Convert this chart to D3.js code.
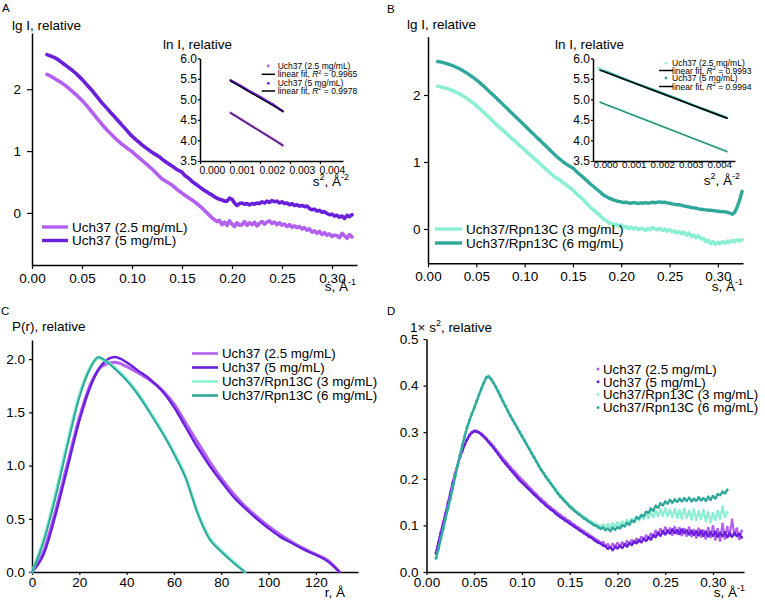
<!DOCTYPE html>
<html>
<head>
<meta charset="utf-8">
<script src="https://cdn.jsdelivr.net/npm/d3@7"></script>
<style>
  body { margin: 0; background: #fff; }
</style>
</head>
<body>
<svg id="fig" width="765" height="607"></svg>
<script>
/*
 * Four SAXS panels: lg I (A, B) with Guinier insets, P(r) (C) and Kratky (D)
 */

// ---- panel A : lg I for Uch37, s from 0.015 step 0.0025
var aStart = 0.015;
var aUch5 = [2.56,2.545,2.53,2.51,2.49,2.46,2.43,2.40,2.37,2.34,
	2.31,2.275,2.24,2.20,2.16,2.115,2.07,2.025,1.98,1.93,
	1.88,1.83,1.78,1.735,1.69,1.645,1.60,1.555,1.51,1.465,
	1.42,1.375,1.33,1.285,1.24,1.205,1.17,1.135,1.10,1.07,
	1.04,1.01,0.98,0.955,0.93,0.905,0.87,0.84,0.81,0.785,
	0.76,0.73,0.70,0.68,0.66,0.61,0.58,0.55,0.51,0.48,
	0.45,0.42,0.39,0.36,0.34,0.31,0.29,0.26,0.24,0.22,
	0.21,0.19,0.19,0.24,0.22,0.16,0.12,0.15,0.16,0.14,
	0.15,0.13,0.15,0.14,0.16,0.15,0.18,0.16,0.19,0.17,
	0.20,0.18,0.19,0.16,0.18,0.15,0.16,0.13,0.15,0.12,
	0.13,0.11,0.12,0.10,0.11,0.07,0.05,0.06,0.03,0.04,
	0.01,0.02,-0.01,-0.03,-0.02,-0.05,-0.04,-0.07,-0.05,-0.09,
	-0.04,-0.06,-0.03];
var aUch25 = [2.24,2.22,2.20,2.175,2.15,2.125,2.10,2.07,2.04,2.005,
	1.97,1.935,1.90,1.86,1.82,1.775,1.73,1.68,1.63,1.58,
	1.53,1.48,1.43,1.385,1.34,1.30,1.26,1.22,1.18,1.145,
	1.11,1.08,1.05,1.02,0.99,0.955,0.92,0.885,0.85,0.815,
	0.78,0.745,0.71,0.67,0.63,0.59,0.55,0.525,0.50,0.475,
	0.45,0.415,0.38,0.35,0.32,0.29,0.26,0.235,0.21,0.18,
	0.15,0.115,0.08,0.04,0.0,-0.04,-0.08,-0.11,-0.14,-0.12,
	-0.19,-0.15,-0.2,-0.13,-0.18,-0.22,-0.16,-0.2,-0.19,-0.14,
	-0.2,-0.16,-0.19,-0.15,-0.21,-0.17,-0.14,-0.18,-0.15,-0.13,
	-0.17,-0.15,-0.19,-0.16,-0.2,-0.18,-0.22,-0.19,-0.23,-0.21,
	-0.24,-0.22,-0.26,-0.24,-0.28,-0.26,-0.31,-0.29,-0.33,-0.3,
	-0.35,-0.32,-0.36,-0.34,-0.38,-0.36,-0.37,-0.40,-0.33,-0.37,
	-0.41,-0.35,-0.39];

// ---- panel A inset : ln I vs s^2
var insA_s2 = [0.00102,0.0012,0.0014,0.0016,0.0018,0.0020,0.0022,0.0024,0.0026,0.00276];
var insA_hi = [5.46,5.39,5.31,5.22,5.14,5.06,4.97,4.89,4.79,4.71];
var insA_lo = [4.67,4.59,4.50,4.41,4.32,4.23,4.14,4.05,3.96,3.88];
var fitA_hi = [[0.00102,5.45],[0.00276,4.71]];
var fitA_lo = [[0.00102,4.67],[0.00276,3.88]];

// ---- panel B : lg I for Uch37/Rpn13C, s from 0.01 step 0.0025
var bStart = 0.01;
var bRpn6 = [2.50,2.494,2.486,2.476,2.466,2.454,2.44,2.425,2.409,2.391,
	2.372,2.351,2.329,2.305,2.28,2.254,2.226,2.197,2.166,2.134,
	2.10,2.065,2.03,2.0,1.965,1.93,1.895,1.86,1.825,1.79,
	1.755,1.72,1.685,1.65,1.615,1.58,1.545,1.51,1.475,1.44,
	1.405,1.37,1.335,1.30,1.265,1.23,1.195,1.16,1.125,1.09,
	1.06,1.03,1.00,0.975,0.95,0.93,0.91,0.875,0.84,0.81,
	0.78,0.745,0.715,0.68,0.65,0.62,0.59,0.56,0.525,0.50,
	0.48,0.46,0.445,0.43,0.42,0.41,0.405,0.395,0.40,0.39,
	0.385,0.395,0.39,0.38,0.39,0.385,0.395,0.385,0.39,0.40,
	0.39,0.40,0.405,0.395,0.40,0.39,0.385,0.375,0.37,0.36,
	0.365,0.35,0.345,0.335,0.33,0.32,0.315,0.31,0.30,0.295,
	0.29,0.285,0.28,0.28,0.275,0.27,0.265,0.26,0.26,0.255,
	0.25,0.235,0.22,0.25,0.33,0.43,0.56];
var bRpn3 = [2.13,2.123,2.115,2.105,2.095,2.083,2.068,2.052,2.036,2.017,
	1.997,1.975,1.95,1.925,1.898,1.87,1.84,1.81,1.778,1.745,
	1.71,1.675,1.64,1.605,1.57,1.537,1.505,1.472,1.44,1.407,
	1.375,1.342,1.31,1.277,1.245,1.212,1.18,1.147,1.115,1.082,
	1.05,1.017,0.985,0.952,0.92,0.887,0.855,0.822,0.79,0.765,
	0.745,0.72,0.69,0.665,0.635,0.61,0.58,0.545,0.51,0.48,
	0.45,0.41,0.37,0.33,0.30,0.27,0.24,0.21,0.17,0.14,
	0.12,0.09,0.08,0.06,0.07,0.04,0.06,0.02,0.04,0.01,
	0.03,0.0,0.02,-0.01,0.01,0.0,-0.02,0.01,-0.01,0.02,
	0.0,-0.01,0.01,-0.02,0.0,-0.03,-0.01,-0.04,-0.03,-0.06,
	-0.04,-0.07,-0.05,-0.09,-0.06,-0.11,-0.09,-0.13,-0.10,-0.15,
	-0.14,-0.19,-0.17,-0.22,-0.19,-0.23,-0.2,-0.22,-0.19,-0.21,
	-0.18,-0.2,-0.17,-0.19,-0.16,-0.18,-0.16];

// ---- panel B inset
var insB_s2 = [0.00025,0.0005,0.001,0.0015,0.002,0.0025,0.003,0.0035,0.004,0.0045,0.0047];
var insB_hi = [5.72,5.66,5.52,5.39,5.26,5.13,5.0,4.86,4.73,4.60,4.55];
var insB_lo = [4.93,4.86,4.73,4.59,4.46,4.32,4.19,4.05,3.92,3.78,3.73];
var insB_stray = [[0.0002,5.76],[0.0003,5.74]];
var fitB_hi = [[0.00025,5.71],[0.0047,4.54]];
var fitB_lo = [[0.00025,4.93],[0.0047,3.73]];

// ---- panel C : P(r)
var rUch = [0,5,10,15,20,25,30,35,40,45,50,55,60,65,70,75,80,85,90,95,100,105,110,115,120,125,130];
var pUch25 = [0,0.2,0.58,1.02,1.45,1.78,1.94,1.97,1.93,1.87,1.80,1.71,1.58,1.40,1.22,1.04,0.88,0.74,0.62,0.52,0.43,0.35,0.28,0.22,0.165,0.11,0];
var pUch5 = [0,0.17,0.54,0.98,1.42,1.76,1.96,2.02,1.97,1.89,1.81,1.70,1.55,1.36,1.17,1.0,0.85,0.71,0.6,0.5,0.41,0.33,0.27,0.21,0.16,0.1,0];
var rRpn = [0,5,10,15,20,25,28,32,35,40,45,50,55,60,65,70,75,80,85,90];
var pRpn3 = [0,0.31,0.74,1.22,1.66,1.94,2.01,1.97,1.92,1.81,1.67,1.50,1.32,1.12,0.89,0.56,0.32,0.2,0.1,0];
var pRpn6 = [0,0.29,0.71,1.19,1.64,1.93,2.02,1.97,1.91,1.80,1.66,1.49,1.31,1.11,0.88,0.55,0.31,0.19,0.09,0];

// ---- panel D : Kratky, s from 0.01 step 0.0025
var dStart = 0.01;
var kUch25 = [0.042,0.064,0.086,0.107,0.127,0.149,0.17,0.192,0.212,0.23,
	0.247,0.262,0.274,0.285,0.294,0.3,0.303,0.303,0.3,0.297,
	0.292,0.287,0.281,0.276,0.27,0.263,0.257,0.25,0.244,0.238,
	0.232,0.226,0.22,0.215,0.209,0.203,0.198,0.193,0.188,0.182,
	0.177,0.171,0.167,0.161,0.157,0.152,0.148,0.142,0.139,0.134,
	0.131,0.126,0.123,0.118,0.116,0.111,0.109,0.104,0.101,0.097,
	0.094,0.09,0.087,0.083,0.08,0.077,0.073,0.07,0.067,0.062,
	0.064,0.057,0.059,0.052,0.06,0.055,0.062,0.055,0.063,0.058,
	0.066,0.06,0.068,0.063,0.071,0.066,0.075,0.07,0.078,0.072,
	0.082,0.076,0.088,0.08,0.092,0.083,0.095,0.084,0.093,0.08,
	0.096,0.082,0.094,0.079,0.092,0.078,0.095,0.077,0.09,0.074,
	0.093,0.076,0.089,0.072,0.094,0.075,0.098,0.07,0.092,0.068,
	0.103,0.072,0.096,0.078,0.112,0.08,0.093,0.071,0.088];
var kUch5 = [0.040,0.062,0.083,0.104,0.124,0.146,0.168,0.19,0.21,0.229,
	0.246,0.26,0.273,0.284,0.293,0.299,0.302,0.301,0.299,0.295,
	0.29,0.285,0.279,0.273,0.267,0.26,0.253,0.246,0.239,0.233,
	0.227,0.221,0.215,0.209,0.203,0.197,0.192,0.187,0.182,0.177,
	0.172,0.167,0.162,0.157,0.152,0.148,0.143,0.139,0.134,0.131,
	0.126,0.122,0.118,0.115,0.111,0.108,0.104,0.101,0.097,0.094,
	0.09,0.087,0.083,0.08,0.076,0.074,0.07,0.066,0.063,0.061,
	0.057,0.055,0.05,0.053,0.047,0.054,0.051,0.056,0.052,0.059,
	0.055,0.062,0.058,0.065,0.062,0.068,0.064,0.071,0.067,0.074,
	0.07,0.079,0.075,0.084,0.078,0.087,0.081,0.089,0.083,0.091,
	0.084,0.09,0.082,0.091,0.084,0.089,0.081,0.088,0.08,0.087,
	0.079,0.088,0.078,0.086,0.077,0.085,0.078,0.086,0.076,0.084,
	0.077,0.085,0.075,0.083,0.076,0.084,0.077,0.082,0.074];
var kRpn3 = [0.028,0.049,0.07,0.092,0.114,0.136,0.158,0.181,0.205,0.228,
	0.25,0.272,0.292,0.311,0.327,0.341,0.354,0.368,0.382,0.395,
	0.408,0.418,0.421,0.416,0.408,0.399,0.389,0.379,0.368,0.358,
	0.348,0.338,0.329,0.32,0.311,0.302,0.293,0.284,0.275,0.266,
	0.257,0.248,0.239,0.23,0.221,0.214,0.206,0.199,0.192,0.185,
	0.178,0.171,0.165,0.159,0.154,0.148,0.143,0.139,0.134,0.13,
	0.126,0.122,0.118,0.115,0.111,0.108,0.105,0.103,0.1,0.098,
	0.101,0.096,0.102,0.097,0.104,0.099,0.106,0.1,0.108,0.103,
	0.111,0.106,0.114,0.108,0.118,0.111,0.121,0.114,0.125,0.116,
	0.128,0.118,0.131,0.12,0.134,0.121,0.136,0.12,0.133,0.118,
	0.135,0.117,0.132,0.115,0.136,0.116,0.131,0.113,0.134,0.112,
	0.13,0.114,0.133,0.11,0.128,0.107,0.126,0.112,0.131,0.114,
	0.14,0.118,0.128];
var kRpn6 = [0.03,0.05,0.071,0.093,0.115,0.137,0.158,0.18,0.205,0.228,
	0.25,0.271,0.291,0.31,0.325,0.339,0.352,0.366,0.38,0.393,
	0.405,0.417,0.419,0.414,0.406,0.397,0.387,0.377,0.366,0.356,
	0.346,0.336,0.327,0.318,0.309,0.3,0.291,0.282,0.273,0.264,
	0.255,0.246,0.237,0.228,0.219,0.212,0.204,0.197,0.19,0.183,
	0.176,0.169,0.162,0.157,0.151,0.146,0.14,0.136,0.131,0.127,
	0.123,0.119,0.115,0.112,0.108,0.105,0.101,0.099,0.096,0.093,
	0.095,0.09,0.093,0.088,0.095,0.091,0.096,0.094,0.1,0.098,
	0.105,0.102,0.11,0.108,0.117,0.115,0.122,0.12,0.129,0.127,
	0.136,0.132,0.142,0.138,0.147,0.143,0.151,0.147,0.154,0.149,
	0.155,0.151,0.157,0.152,0.158,0.153,0.159,0.152,0.157,0.153,
	0.16,0.154,0.158,0.153,0.161,0.155,0.163,0.158,0.167,0.165,
	0.172,0.169,0.176];

// tick values and legend labels
var sTicks = [0, 0.05, 0.10, 0.15, 0.20, 0.25, 0.30];
var lgTicks = [0, 1, 2];
var s2Ticks = [0, 0.001, 0.002, 0.003, 0.004];
var lnTicks = [3.5, 4.0, 4.5, 5.0, 5.5, 6.0];
var rTicks = [0, 20, 40, 60, 80, 100, 120];
var prTicks = [0, 0.5, 1.0, 1.5, 2.0];
var krTicks = [0, 0.1, 0.2, 0.3, 0.4, 0.5];
var namesUch = ["Uch37 (2.5 mg/mL)", "Uch37 (5 mg/mL)"];
var namesRpn = ["Uch37/Rpn13C (3 mg/mL)", "Uch37/Rpn13C (6 mg/mL)"];
var insetNames = ["Uch37 (2.5 mg/mL)", "Uch37 (5 mg/mL)"];
var r2A = ["0.9965", "0.9978"];
var r2B = ["0.9993", "0.9994"];

var FAM = '"Liberation Sans", Arial, Helvetica, sans-serif';
var FS = 13.5;
var col = { u25: "#b35ff2", u5: "#6a1fdc", r3: "#8cefd4", r6: "#2fa89b" };

var svg = d3.select("#fig");
svg.append("rect").attr("width", 765).attr("height", 607).attr("fill", "#fff");

function sGrid(start, n){
	return d3.range(n).map(function(i){ return +(start + i * 0.0025).toFixed(4); });
}
function zip(xs, ys){
	return ys.map(function(v, i){ return [xs[i], v]; });
}

function drawAxis(g, axis, fs){
	g.call(axis);
	g.attr("font-family", FAM).attr("font-size", fs);
	g.select(".domain").attr("stroke", "#000").attr("stroke-width", 1.5);
	g.selectAll(".tick line").attr("stroke", "#000").attr("stroke-width", 1.2);
	g.selectAll(".tick text").attr("fill", "#000");
	return g;
}

// text made of plain / superscript / italic pieces
function rich(g, x, y, parts, fs, anchor){
	var t = g.append("text").attr("x", x).attr("y", y)
		.attr("font-family", FAM).attr("font-size", fs)
		.attr("text-anchor", anchor || "start").attr("fill", "#000");
	var shift = 0;
	parts.forEach(function(p){
		if(typeof p === "string") p = { t: p };
		var ts = t.append("tspan").text(p.t);
		var want = p.sup ? -fs * 0.42 : 0;
		if(want !== shift){ ts.attr("dy", want - shift); shift = want; }
		if(p.sup) ts.attr("font-size", fs * 0.66);
		if(p.it) ts.attr("font-style", "italic");
	});
	return t;
}

function linePath(g, data, x, y, color, w, curve){
	var ln = d3.line().x(function(d){ return x(d[0]); }).y(function(d){ return y(d[1]); });
	if(curve) ln.curve(curve);
	return g.append("path").datum(data).attr("d", ln)
		.attr("fill", "none").attr("stroke", color).attr("stroke-width", w)
		.attr("stroke-linejoin", "round").attr("stroke-linecap", "round");
}

var unitS = ["s, Å", { t: "-1", sup: 1 }];
var unitS2 = ["s", { t: "2", sup: 1 }, ", Å", { t: "-2", sup: 1 }];

/* ---------------- panel A ---------------- */
var gA = svg.append("g");
var xA = d3.scaleLinear().domain([0, 0.325]).range([32, 357]);
var yA = d3.scaleLinear().domain([-0.843, 2.91]).range([265, 33]);
drawAxis(gA.append("g").attr("transform", "translate(0,265)"),
	d3.axisBottom(xA).tickValues(sTicks).tickFormat(d3.format(".2f")).tickSize(4).tickSizeOuter(0).tickPadding(4), FS);
drawAxis(gA.append("g").attr("transform", "translate(32,0)"),
	d3.axisLeft(yA).tickValues(lgTicks).tickFormat(d3.format("d")).tickSize(5).tickSizeOuter(0).tickPadding(6), FS);

var sA = sGrid(aStart, aUch25.length);
linePath(gA, zip(sA, aUch25), xA, yA, col.u25, 3.6);
linePath(gA, zip(sA, aUch5), xA, yA, col.u5, 3.6);

[col.u25, col.u5].forEach(function(c, i){
	var yy = 227 + i * 13.5;
	gA.append("line").attr("x1", 42).attr("x2", 68).attr("y1", yy).attr("y2", yy)
		.attr("stroke", c).attr("stroke-width", 3.4);
	rich(gA, 72, yy + 4.8, [namesUch[i]], FS);
});
rich(gA, 12, 29.5, ["lg I, relative"], FS);
rich(gA, 356, 291, unitS, FS, "end");
rich(gA, 2, 11.5, ["A"], 11.5);

// inset A
var xIA = d3.scaleLinear().domain([0, 0.00477]).range([200, 343]);
var yIA = d3.scaleLinear().domain([3.5, 6.0]).range([161, 58.3]);
var axIA = drawAxis(gA.append("g").attr("transform", "translate(0,161)"),
	d3.axisBottom(xIA).tickValues(s2Ticks).tickFormat(d3.format(".3f")).tickSize(3).tickSizeOuter(0).tickPadding(3), 10.3);
axIA.selectAll(".tick text").attr("text-anchor", "start").attr("dx", -1);
drawAxis(gA.append("g").attr("transform", "translate(200,0)"),
	d3.axisLeft(yIA).tickValues(lnTicks).tickFormat(d3.format(".1f")).tickSize(2).tickSizeOuter(0).tickPadding(1), 12);

linePath(gA, zip(insA_s2, insA_lo), xIA, yIA, col.u25, 2.6);
linePath(gA, zip(insA_s2, insA_hi), xIA, yIA, col.u5, 2.6);
linePath(gA, fitA_lo, xIA, yIA, "#000", 0.9);
linePath(gA, fitA_hi, xIA, yIA, "#000", 1.3);
rich(gA, 163, 49, ["ln I, relative"], FS);
rich(gA, 349, 186, unitS2, FS, "end");

function insetLegend(g, dotX, lineX1, lineX2, textX, rows, colors, r2s){
	var fs = 8.5;
	for(var i = 0; i < 2; i++){
		var y1 = rows[i * 2], y2 = rows[i * 2 + 1];
		g.append("circle").attr("cx", dotX).attr("cy", y1).attr("r", 1.4).attr("fill", colors[i]);
		rich(g, textX, y1 + 3, [insetNames[i]], fs);
		g.append("line").attr("x1", lineX1).attr("x2", lineX2).attr("y1", y2).attr("y2", y2)
			.attr("stroke", "#000").attr("stroke-width", 1.5);
		rich(g, textX, y2 + 3, ["linear fit, ", { t: "R", it: 1 }, { t: "2", sup: 1 }, " = " + r2s[i]], fs);
	}
}
insetLegend(gA, 268.3, 261.7, 275, 277.7, [66, 74.3, 83.3, 91], [col.u25, col.u5], r2A);

/* ---------------- panel B ---------------- */
var gB = svg.append("g");
var xB = d3.scaleLinear().domain([0, 0.326]).range([428, 743]);
var yB = d3.scaleLinear().domain([-0.512, 2.87]).range([263.3, 36.7]);
drawAxis(gB.append("g").attr("transform", "translate(0,263.3)"),
	d3.axisBottom(xB).tickValues(sTicks).tickFormat(d3.format(".2f")).tickSize(4).tickSizeOuter(0).tickPadding(4), FS);
drawAxis(gB.append("g").attr("transform", "translate(428,0)"),
	d3.axisLeft(yB).tickValues(lgTicks).tickFormat(d3.format("d")).tickSize(4).tickSizeOuter(0).tickPadding(3.5), FS);

var sB = sGrid(bStart, bRpn3.length);
linePath(gB, zip(sB, bRpn3), xB, yB, col.r3, 3.6);
linePath(gB, zip(sB, bRpn6), xB, yB, col.r6, 3.4);

[col.r3, col.r6].forEach(function(c, i){
	var yy = 229 + i * 14;
	gB.append("line").attr("x1", 435).attr("x2", 462).attr("y1", yy).attr("y2", yy)
		.attr("stroke", c).attr("stroke-width", 3.4);
	rich(gB, 466, yy + 4.8, [namesRpn[i]], FS);
});
rich(gB, 407, 29, ["lg I, relative"], FS);
rich(gB, 743, 291, unitS, FS, "end");
rich(gB, 387, 13, ["B"], 11.5);

// inset B
var xIB = d3.scaleLinear().domain([0, 0.00498]).range([593, 735]);
var yIB = d3.scaleLinear().domain([3.5, 6.0]).range([161, 58.3]);
var axIB = drawAxis(gB.append("g").attr("transform", "translate(0,161)"),
	d3.axisBottom(xIB).tickValues(s2Ticks).tickFormat(d3.format(".3f")).tickSize(0).tickSizeOuter(0).tickPadding(0.5), 9.8);
axIB.selectAll(".tick text").attr("text-anchor", "start").attr("dx", 0);
drawAxis(gB.append("g").attr("transform", "translate(593,0)"),
	d3.axisLeft(yIB).tickValues(lnTicks).tickFormat(d3.format(".1f")).tickSize(2).tickSizeOuter(0).tickPadding(1), 12);

linePath(gB, zip(insB_s2, insB_lo), xIB, yIB, col.r3, 2.6);
linePath(gB, zip(insB_s2, insB_hi), xIB, yIB, col.r6, 2.6);
gB.selectAll("circle.stray").data(insB_stray).enter().append("circle")
	.attr("cx", function(d){ return xIB(d[0]); }).attr("cy", function(d){ return yIB(d[1]); })
	.attr("r", 1.3).attr("fill", col.r3);
linePath(gB, fitB_lo, xIB, yIB, "#0d3b33", 0.8);
linePath(gB, fitB_hi, xIB, yIB, "#000", 1.4);
rich(gB, 555, 49, ["ln I, relative"], FS);
rich(gB, 740, 185, unitS2, FS, "end");
insetLegend(gB, 666, 659, 673, 672, [63.3, 70.5, 78, 86.5], [col.r3, col.r6], r2B);

/* ---------------- panel C ---------------- */
var gC = svg.append("g");
var xC = d3.scaleLinear().domain([0, 137.8]).range([32, 358]);
var yC = d3.scaleLinear().domain([0, 2.18]).range([572, 340]);
drawAxis(gC.append("g").attr("transform", "translate(0,572)"),
	d3.axisBottom(xC).tickValues(rTicks).tickFormat(d3.format("d")).tickSize(3).tickSizeOuter(0).tickPadding(2), FS);
drawAxis(gC.append("g").attr("transform", "translate(32,0)"),
	d3.axisLeft(yC).tickValues(prTicks).tickFormat(d3.format(".1f")).tickSize(3).tickSizeOuter(0).tickPadding(4), FS);

linePath(gC, zip(rUch, pUch25), xC, yC, col.u25, 3, d3.curveMonotoneX);
linePath(gC, zip(rUch, pUch5), xC, yC, col.u5, 2.4, d3.curveMonotoneX);
linePath(gC, zip(rRpn, pRpn3), xC, yC, col.r3, 3.2, d3.curveMonotoneX);
linePath(gC, zip(rRpn, pRpn6), xC, yC, col.r6, 2, d3.curveMonotoneX);

var namesAll = namesUch.concat(namesRpn);
var colsAll = [col.u25, col.u5, col.r3, col.r6];
namesAll.forEach(function(n, i){
	var yy = 353.5 + i * 14;
	gC.append("line").attr("x1", 192).attr("x2", 218).attr("y1", yy).attr("y2", yy)
		.attr("stroke", colsAll[i]).attr("stroke-width", 2.6);
	rich(gC, 222, yy + 4.8, [n], 13.3);
});
rich(gC, 12, 331, ["P(r), relative"], FS);
rich(gC, 345, 597, ["r, Å"], FS, "end");
rich(gC, 1, 315, ["C"], 11.5);

/* ---------------- panel D ---------------- */
var gD = svg.append("g");
var xD = d3.scaleLinear().domain([0, 0.3325]).range([426.5, 744]);
var yD = d3.scaleLinear().domain([0, 0.5]).range([572, 339]);
drawAxis(gD.append("g").attr("transform", "translate(0,572)"),
	d3.axisBottom(xD).tickValues(sTicks).tickFormat(d3.format(".2f")).tickSize(3).tickSizeOuter(0).tickPadding(2), FS);
drawAxis(gD.append("g").attr("transform", "translate(426.5,0)"),
	d3.axisLeft(yD).tickValues(krTicks).tickFormat(d3.format(".1f")).tickSize(3).tickSizeOuter(0).tickPadding(5), FS);

// dense scatter look: dotted trace through the readings plus a dot on each reading
var kSeries = [kUch25, kUch5, kRpn3, kRpn6];
kSeries.forEach(function(arr, i){
	var pts = zip(sGrid(dStart, arr.length), arr);
	linePath(gD, pts, xD, yD, colsAll[i], 2.5).attr("stroke-dasharray", "0.01 1.9");
	gD.append("g").selectAll("circle").data(pts).enter().append("circle")
		.attr("cx", function(d){ return xD(d[0]); })
		.attr("cy", function(d){ return yD(d[1]); })
		.attr("r", 1.4).attr("fill", colsAll[i]);
});
namesAll.forEach(function(n, i){
	var yy = 369 + i * 12.8;
	gD.append("circle").attr("cx", 598).attr("cy", yy).attr("r", 1.5).attr("fill", colsAll[i]);
	rich(gD, 603, yy + 4.8, [n], 13.3);
});
rich(gD, 410, 332, ["1× s", { t: "2", sup: 1 }, ", relative"], FS);
rich(gD, 745, 597, unitS, FS, "end");
rich(gD, 387, 315, ["D"], 11.5);
</script>
</body>
</html>
